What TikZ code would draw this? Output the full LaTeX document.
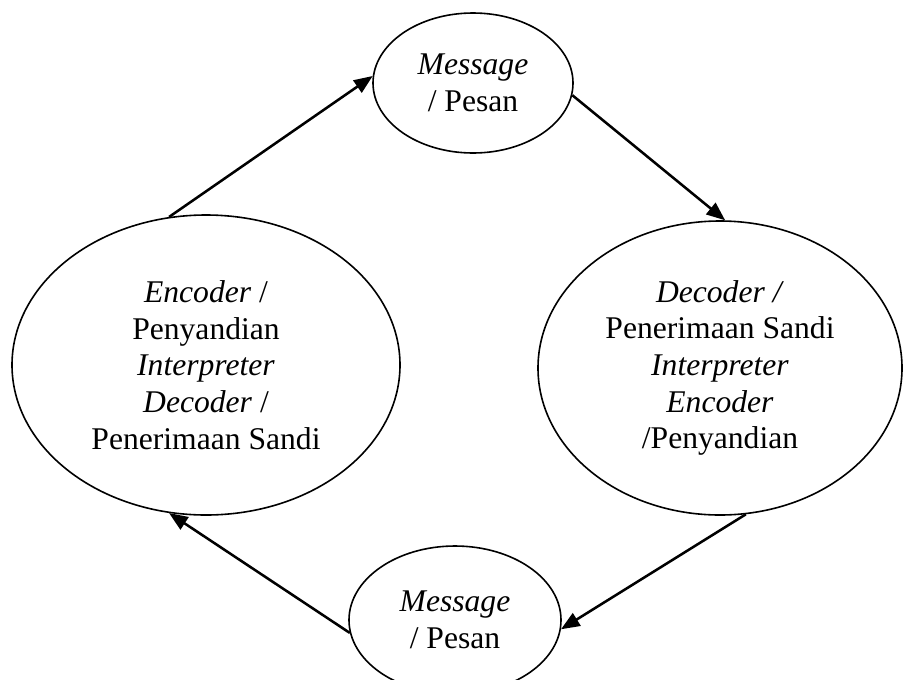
\documentclass[tikz,border=0pt]{standalone}
\usepackage{fontspec}
\setmainfont{Liberation Serif}
\usetikzlibrary{shapes.geometric, arrows.meta}

\begin{document}
\begin{tikzpicture}[x=0.75pt, y=-0.75pt,
      ell/.style={draw, ellipse, line width=1.2pt, inner sep=0pt, align=center, font=\fontsize{23.7}{27.5}\selectfont},
      arr/.style={-{Triangle[length=14pt,width=11pt]}, line width=1.9pt}]
    \useasboundingbox (0,0) rectangle (903,679);
    \node[ell, minimum width=150pt, minimum height=105pt] (msgtop) at (473,83) {\textit{Message}\\/ Pesan};
    \node[ell, minimum width=291pt, minimum height=225pt] (enc) at (206,365) {\textit{Encoder} /\\Penyandian\\\textit{Interpreter}\\\textit{Decoder} /\\Penerimaan Sandi};
    \node[ell, minimum width=273pt, minimum height=220.5pt] (dec) at (720,368) {\textit{Decoder /}\\Penerimaan Sandi\\\textit{Interpreter}\\\textit{Encoder}\\/Penyandian};
    \node[ell, minimum width=159pt, minimum height=111pt] (msgbot) at (455,620) {\textit{Message}\\/ Pesan};
    \draw[arr] (enc.104.5) -- (msgtop.176.6);
    \draw[arr] (msgtop.-7) -- (dec.88.8);
    \draw[arr] (dec.280.4) -- (msgbot.-5.3);
    \draw[arr] (msgbot.187) -- (enc.256);
\end{tikzpicture}
\end{document}
